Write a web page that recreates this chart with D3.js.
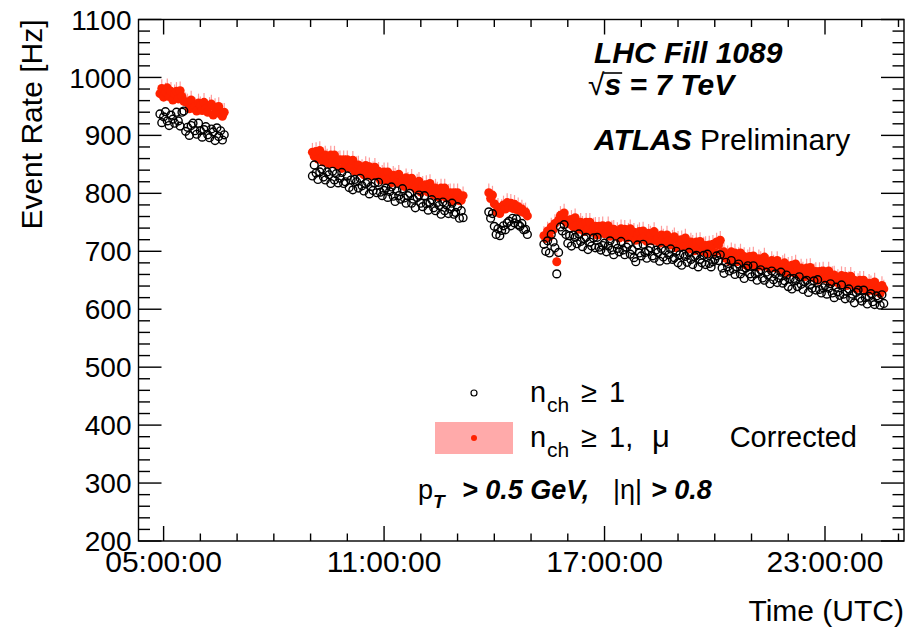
<!DOCTYPE html>
<html>
<head>
<meta charset="utf-8">
<script src="https://cdn.jsdelivr.net/npm/d3@7"></script>
<style>
  body { margin: 0; background: #fff; }
  svg { display: block; }
  text { font-family: "Liberation Sans", Arial, Helvetica, sans-serif; fill: #000; }
</style>
</head>
<body>
<script>
// values: one sample every 3 minutes inside each running period
const stepMin = 3;
const segStarts = ["04:54", "09:03", "13:51", "15:21"];

// n_ch >= 1 (open black circles)
const blk1 = [937, 922, 932, 941, 925, 917, 935, 928, 921, 940, 925, 916, 940, 942, 907, 914, 900, 917, 921, 908,
  902, 921, 908, 897, 910, 915, 901, 896, 911, 906, 891, 913, 898, 908, 892, 901];
const blk2 = [830, 849, 835, 824, 837, 842, 828, 823, 837, 832, 817, 838, 823, 834, 818, 826, 836, 817, 820, 830,
  810, 823, 806, 824, 820, 809, 826, 813, 804, 817, 819, 799, 812, 805, 818, 801, 819, 802, 796, 805,
  809, 793, 803, 811, 795, 786, 804, 796, 790, 808, 792, 783, 796, 800, 783, 790, 775, 793, 797, 783,
  777, 796, 782, 771, 784, 789, 775, 770, 784, 779, 764, 785, 770, 780, 765, 773, 783, 764, 767, 777,
  757, 770, 758];
const blk3 = [768, 757, 765, 743, 729, 739, 727, 736, 744, 737, 749, 752, 744, 757, 749, 756, 746, 743, 748, 737, 738, 729];
const blk4 = [712, 700, 718, 697, 729, 716, 706, 661, 698, 742, 735, 746, 729, 714, 727, 709, 728, 724, 713, 730,
  717, 708, 722, 724, 703, 716, 709, 723, 706, 724, 707, 702, 710, 714, 699, 709, 718, 702, 694, 713,
  705, 699, 717, 702, 694, 707, 712, 695, 703, 689, 682, 711, 697, 692, 712, 698, 688, 701, 706, 692,
  688, 702, 698, 683, 705, 690, 701, 685, 694, 704, 686, 689, 700, 680, 694, 676, 695, 691, 681, 698,
  686, 677, 691, 693, 673, 686, 680, 693, 677, 695, 679, 673, 682, 686, 692, 684, 694, 671, 662, 681,
  673, 666, 684, 669, 660, 673, 678, 661, 668, 653, 671, 675, 661, 656, 675, 661, 650, 664, 668, 654,
  650, 664, 659, 644, 666, 651, 661, 646, 654, 664, 645, 649, 659, 639, 653, 635, 653, 649, 639, 656,
  643, 634, 648, 650, 629, 643, 636, 649, 633, 651, 634, 628, 637, 641, 626, 636, 644, 628, 620, 638,
  630, 624, 642, 626, 618, 631, 635, 619, 626, 611, 629, 633, 619, 614, 633, 620, 609, 622, 627, 613,
  608, 623, 618, 607, 625, 610];

// n_ch >= 1, mu corrected (red markers)
const red1 = [972, 981, 966, 975, 982, 967, 976, 961, 972, 976, 963, 977, 967, 959, 958, 956, 946, 961, 947, 950,
  942, 956, 951, 943, 957, 946, 940, 950, 954, 935, 948, 941, 950, 937, 933, 940];
const red2 = [871, 864, 872, 859, 874, 861, 854, 866, 861, 851, 866, 854, 866, 849, 857, 858, 843, 858, 850, 858,
  844, 845, 857, 838, 848, 849, 837, 843, 832, 848, 837, 846, 830, 839, 845, 830, 838, 823, 833, 837,
  823, 837, 826, 818, 831, 828, 818, 833, 818, 821, 812, 827, 821, 813, 826, 815, 808, 818, 821, 802,
  814, 807, 815, 802, 817, 804, 797, 809, 804, 793, 809, 797, 809, 792, 800, 801, 786, 801, 793, 801,
  787, 788, 796];
const red3 = [801, 791, 797, 782, 768, 776, 765, 774, 780, 773, 784, 776, 783, 774, 781, 772, 777, 769, 773, 767, 768, 761];
const red4 = [727, 722, 735, 725, 742, 737, 748, 682, 754, 762, 755, 766, 750, 754, 747, 755, 742, 758, 745, 738,
  750, 745, 734, 750, 738, 750, 733, 742, 743, 728, 743, 735, 744, 730, 732, 744, 726, 737, 738, 727,
  734, 723, 739, 729, 738, 723, 733, 739, 725, 733, 719, 730, 734, 721, 735, 725, 717, 731, 728, 718,
  734, 719, 722, 714, 728, 723, 715, 728, 718, 711, 721, 725, 706, 719, 712, 720, 708, 723, 710, 704,
  716, 712, 701, 716, 705, 717, 700, 709, 710, 696, 711, 703, 712, 698, 716, 711, 719, 698, 699, 688,
  694, 683, 699, 688, 697, 682, 691, 697, 683, 691, 676, 687, 691, 677, 692, 681, 673, 687, 684, 674,
  690, 675, 678, 670, 684, 678, 671, 684, 673, 667, 677, 680, 662, 674, 667, 676, 663, 678, 665, 659,
  671, 666, 656, 671, 659, 672, 655, 663, 665, 650, 665, 658, 666, 652, 654, 666, 647, 658, 659, 647,
  653, 643, 658, 647, 657, 641, 650, 657, 642, 650, 635, 646, 650, 636, 650, 639, 631, 645, 642, 632,
  647, 632, 636, 627, 641, 635];
const redErrUp = 16, redErrDown = 6;

const yTicks = d3.range(200, 1101, 20);

const blkSegs = [blk1, blk2, blk3, blk4];
const redSegs = [red1, red2, red3, red4];

const day = Date.UTC(2010, 4, 15);
const atTime = (hhmm, i) => {
  const [h, m] = hhmm.split(":").map(Number);
  return new Date(day + (h * 60 + m + i * stepMin) * 60000);
};
const blkPts = blkSegs.flatMap((s, k) => s.map((v, i) => ({ t: atTime(segStarts[k], i), v })));
const redPts = redSegs.flatMap((s, k) => s.map((v, i) => ({ t: atTime(segStarts[k], i), v })));

const W = 907, H = 631;
const fr = { left: 138.5, right: 904, top: 19.5, bottom: 541 };

const svg = d3.select(document.body).append("svg")
  .attr("width", W)
  .attr("height", H);

const x = d3.scaleUtc()
  .domain([atTime("04:19", 0), atTime("25:09", 0)])
  .range([fr.left, fr.right]);

const y = d3.scaleLinear()
  .domain([200, 1100])
  .range([fr.bottom, fr.top]);

// red points: upward error bars then markers
svg.append("g")
  .attr("stroke", "#ff9c9c")
  .attr("stroke-width", 1.2)
  .selectAll("line")
  .data(redPts)
  .join("line")
    .attr("x1", d => x(d.t))
    .attr("x2", d => x(d.t))
    .attr("y1", d => y(d.v - redErrDown))
    .attr("y2", d => y(d.v + redErrUp));

svg.append("g")
  .attr("fill", "#ff2200")
  .selectAll("circle")
  .data(redPts)
  .join("circle")
    .attr("cx", d => x(d.t))
    .attr("cy", d => y(d.v))
    .attr("r", 4.5);

// black open circles
svg.append("g")
  .attr("fill", "none")
  .attr("stroke", "#000")
  .attr("stroke-width", 1.4)
  .selectAll("circle")
  .data(blkPts)
  .join("circle")
    .attr("cx", d => x(d.t))
    .attr("cy", d => y(d.v))
    .attr("r", 3.9);

// frame + inward ticks on all sides
const axes = svg.append("g").attr("stroke", "#000").attr("stroke-width", 1.4);
axes.append("rect")
  .attr("x", fr.left).attr("y", fr.top)
  .attr("width", fr.right - fr.left).attr("height", fr.bottom - fr.top)
  .attr("fill", "none");

const hours = d3.utcHour.range(x.domain()[0], x.domain()[1]);
const isMajorH = d => (d.getUTCHours() + 19) % 6 === 0;
const hLen = d => isMajorH(d) ? 15 : 7.5;

axes.selectAll("xb").data(hours).join("line")
  .attr("x1", d => x(d)).attr("x2", d => x(d))
  .attr("y1", fr.bottom).attr("y2", d => fr.bottom - hLen(d));
axes.selectAll("xt").data(hours).join("line")
  .attr("x1", d => x(d)).attr("x2", d => x(d))
  .attr("y1", fr.top).attr("y2", d => fr.top + hLen(d));

const vLen = v => v % 100 === 0 ? 23 : 11.5;
axes.selectAll("yl").data(yTicks).join("line")
  .attr("x1", fr.left).attr("x2", v => fr.left + vLen(v))
  .attr("y1", v => y(v)).attr("y2", v => y(v));
axes.selectAll("yr").data(yTicks).join("line")
  .attr("x1", fr.right).attr("x2", v => fr.right - vLen(v))
  .attr("y1", v => y(v)).attr("y2", v => y(v));

// tick labels
const fmt = d3.utcFormat("%H:%M:%S");
svg.append("g")
  .attr("font-size", 30)
  .attr("text-anchor", "middle")
  .selectAll("text")
  .data(hours.filter(isMajorH))
  .join("text")
    .attr("x", d => x(d))
    .attr("y", 572)
    .text(fmt);

svg.append("g")
  .attr("font-size", 28)
  .attr("text-anchor", "end")
  .selectAll("text")
  .data(yTicks.filter(v => v % 100 === 0))
  .join("text")
    .attr("x", fr.left - 7)
    .attr("y", v => y(v))
    .attr("dy", "0.36em")
    .text(v => v);

// axis titles
svg.append("text")
  .attr("font-size", 30)
  .attr("text-anchor", "end")
  .attr("transform", `translate(42,${fr.top}) rotate(-90)`)
  .text("Event Rate [Hz]");

svg.append("text")
  .attr("font-size", 30)
  .attr("text-anchor", "end")
  .attr("x", fr.right)
  .attr("y", 621)
  .text("Time (UTC)");

// labels top right
const bi = s => s.attr("font-weight", "bold").attr("font-style", "italic");
svg.append("text").attr("font-size", 30).attr("x", 594).attr("y", 63)
  .call(bi).text("LHC Fill 1089");

const sq = svg.append("text").attr("font-size", 30).attr("x", 588).attr("y", 95).text("√");
const sqW = sq.node().getComputedTextLength();
const sTxt = svg.append("text").attr("font-size", 30).attr("x", 588 + sqW).attr("y", 95)
  .call(bi).text("s = 7 TeV");
const sW = sTxt.node().getSubStringLength(0, 1);
svg.append("line")
  .attr("x1", 588 + sqW - 1).attr("x2", 588 + sqW + sW + 1)
  .attr("y1", 73).attr("y2", 73)
  .attr("stroke", "#000").attr("stroke-width", 1.6);

const atl = svg.append("text").attr("font-size", 30).attr("x", 594).attr("y", 150);
atl.append("tspan").call(bi).text("ATLAS");
atl.append("tspan").text(" Preliminary");

// legend
const leg = svg.append("g").attr("font-size", 29);
leg.append("circle").attr("cx", 474).attr("cy", 393).attr("r", 3)
  .attr("fill", "none").attr("stroke", "#000").attr("stroke-width", 1.2);
leg.append("rect").attr("x", 435).attr("y", 422).attr("width", 78).attr("height", 32)
  .attr("fill", "#ffaaaa");
leg.append("circle").attr("cx", 474).attr("cy", 438).attr("r", 3).attr("fill", "#ff2200");

[402, 447].forEach(b => {
  leg.append("text").attr("x", 530).attr("y", b).text("n");
  leg.append("text").attr("x", 547).attr("y", b + 10).attr("font-size", 21).text("ch");
  leg.append("text").attr("x", 581).attr("y", b).text("≥");
});
leg.append("text").attr("x", 609).attr("y", 402).text("1");
leg.append("text").attr("x", 609).attr("y", 447).text("1,");
leg.append("text").attr("x", 652).attr("y", 447).attr("font-size", 31).text("μ");
leg.append("text").attr("x", 857).attr("y", 447).attr("text-anchor", "end").text("Corrected");

// cut label
const cut = svg.append("g").attr("font-size", 27);
cut.append("text").attr("x", 418).attr("y", 499).text("p");
cut.append("text").attr("x", 433).attr("y", 508).attr("font-size", 19).call(bi).text("T");
cut.append("text").attr("x", 462).attr("y", 499).call(bi).text("> 0.5 GeV,");
cut.append("text").attr("x", 613).attr("y", 499).text("|η|");
cut.append("text").attr("x", 651).attr("y", 499).call(bi).text("> 0.8");
</script>
</body>
</html>
